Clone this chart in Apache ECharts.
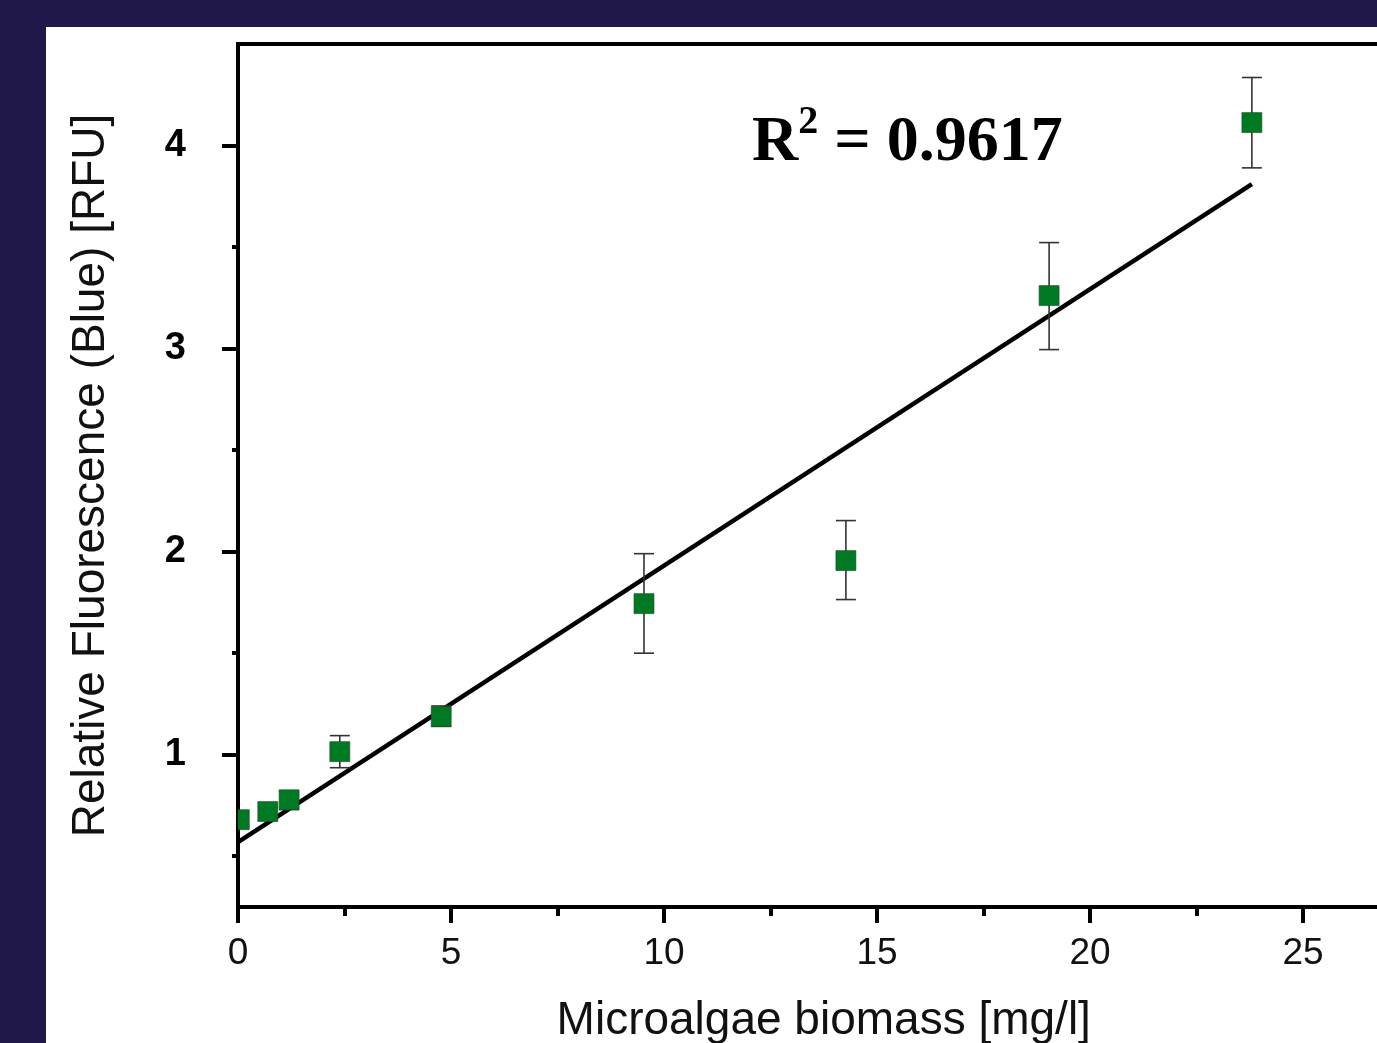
<!DOCTYPE html>
<html>
<head>
<meta charset="utf-8">
<title>Microalgae biomass vs fluorescence</title>
<script src="https://cdn.jsdelivr.net/npm/echarts@6/dist/echarts.min.js"></script>
<style>
	html, body { margin:0; padding:0; width:1377px; height:1043px; background:#20174a; overflow:hidden; }
	#chart { position:absolute; left:46px; top:27px; width:1331px; height:1016px; background:#ffffff; }
</style>
</head>
<body>
<div id="chart"></div>
<script>
// 数据
var biomass   = [0.03, 0.7, 1.2, 2.39, 4.77, 9.53, 14.27, 19.04, 23.8];
var rfu       = [0.68, 0.72, 0.778, 1.015, 1.187, 1.744, 1.956, 3.261, 4.113];
var errLow    = [0.645, 0.70, 0.73, 0.936, 1.14, 1.50, 1.764, 2.995, 3.89];
var errHigh   = [0.715, 0.74, 0.818, 1.094, 1.24, 1.99, 2.153, 3.522, 4.335];
var fitX      = [0, 23.8];
var fitY      = [0.569, 3.81];
var xMajor    = [0, 5, 10, 15, 20, 25];
var xMinor    = [2.5, 7.5, 12.5, 17.5, 22.5];
var yMajor    = [1, 2, 3, 4];
var yMinor    = [0.5, 1.5, 2.5, 3.5];

var COLOR = {
	POINT:'#007a22',
	ERR:'#333333',
	AXIS:'#000000'
};

function pairs(xs, ys){
	var out = [];
	for (var i = 0; i < xs.length; i++){
		out.push([xs[i], ys[i]]);
	}
	return out;
}

function pointData(){
	var out = [];
	for (var i = 0; i < biomass.length; i++){
		out.push([biomass[i], rfu[i], errLow[i], errHigh[i]]);
	}
	return out;
}

// 误差线 + 方形点 (按坐标系裁剪)
function renderPoint(params, api){
	var c  = api.coord([api.value(0), api.value(1)]);
	var lo = api.coord([api.value(0), api.value(2)]);
	var hi = api.coord([api.value(0), api.value(3)]);
	var w = 10, s = 20;
	var left = params.coordSys.x;
	var style = { stroke: COLOR.ERR, lineWidth: 1.6 };
	var rect = echarts.graphic.clipRectByRect(
		{ x: c[0] - s / 2, y: c[1] - s / 2, width: s, height: s },
		{ x: left, y: params.coordSys.y, width: params.coordSys.width, height: params.coordSys.height }
	);
	var children = [
		{ type:'line', shape:{ x1:lo[0], y1:lo[1], x2:hi[0], y2:hi[1] }, style:style },
		{ type:'line', shape:{ x1:Math.max(left, lo[0]-w), y1:lo[1], x2:lo[0]+w, y2:lo[1] }, style:style },
		{ type:'line', shape:{ x1:Math.max(left, hi[0]-w), y1:hi[1], x2:hi[0]+w, y2:hi[1] }, style:style }
	];
	if (rect){
		children.push({ type:'rect', shape:rect, style:{ fill: COLOR.POINT, stroke:'#1c4a2a', lineWidth:0.6 } });
	}
	return { type:'group', children:children };
}

function axisLineStyle(){
	return { show:true, lineStyle:{ color:COLOR.AXIS, width:4 } };
}

var myChart = echarts.init(document.getElementById('chart'));
myChart.setOption({
	animation:false,
	grid:{
		left:192,
		top:17,
		width:1171.5,
		height:863,
		outerBoundsMode:'none',
		containLabel:false,
		show:true,
		borderColor:COLOR.AXIS,
		borderWidth:4,
		backgroundColor:'transparent'
	},
	xAxis:[
		{
			type:'value',
			min:0,
			max:27.5,
			position:'bottom',
			axisLine:axisLineStyle(),
			axisTick:{ show:true, customValues:xMajor, length:16, lineStyle:{ color:COLOR.AXIS, width:4 } },
			axisLabel:{ customValues:xMajor, color:'#111111', fontSize:37, fontFamily:'Liberation Sans', margin:28 },
			splitLine:{ show:false },
			name:'Microalgae biomass [mg/l]',
			nameLocation:'middle',
			nameGap:91,
			nameTextStyle:{ color:'#111111', fontSize:46, fontFamily:'Liberation Sans' }
		},
		{
			type:'value',
			min:0,
			max:27.5,
			position:'bottom',
			axisLine:{ show:false },
			axisTick:{ show:true, customValues:xMinor, length:9, lineStyle:{ color:COLOR.AXIS, width:4 } },
			axisLabel:{ show:false },
			splitLine:{ show:false }
		}
	],
	yAxis:[
		{
			type:'value',
			min:0.25,
			max:4.5,
			position:'left',
			axisLine:axisLineStyle(),
			axisTick:{ show:true, customValues:yMajor, length:16, lineStyle:{ color:COLOR.AXIS, width:4 } },
			axisLabel:{ customValues:yMajor, color:'#000000', fontSize:38, fontWeight:'bold', fontFamily:'Liberation Sans', margin:52 },
			splitLine:{ show:false },
			name:'Relative Fluorescence (Blue) [RFU]',
			nameLocation:'middle',
			nameGap:124,
			nameTextStyle:{ color:'#111111', fontSize:46, fontFamily:'Liberation Sans' }
		},
		{
			type:'value',
			min:0.25,
			max:4.5,
			position:'left',
			axisLine:{ show:false },
			axisTick:{ show:true, customValues:yMinor, length:6, lineStyle:{ color:COLOR.AXIS, width:4 } },
			axisLabel:{ show:false },
			splitLine:{ show:false }
		}
	],
	graphic:[
		{
			type:'text',
			left:706,
			top:76,
			style:{
				text:'{a|R}{s|2}{a| = 0.9617}',
				rich:{
					a:{ fontSize:64, fontWeight:'bold', fontFamily:'Liberation Serif', lineHeight:72, verticalAlign:'bottom', fill:'#000000', color:'#000000' },
					s:{ fontSize:40, fontWeight:'bold', fontFamily:'Liberation Serif', lineHeight:40, verticalAlign:'top', fill:'#000000', color:'#000000' }
				}
			}
		}
	],
	series:[
		{
			name:'fit',
			type:'line',
			data:pairs(fitX, fitY),
			symbol:'none',
			lineStyle:{ color:'#000000', width:4.5 },
			z:2
		},
		{
			name:'RFU',
			type:'custom',
			renderItem:renderPoint,
			data:pointData(),
			encode:{ x:0, y:[1,2,3] },
			z:3
		}
	]
});
</script>
</body>
</html>
